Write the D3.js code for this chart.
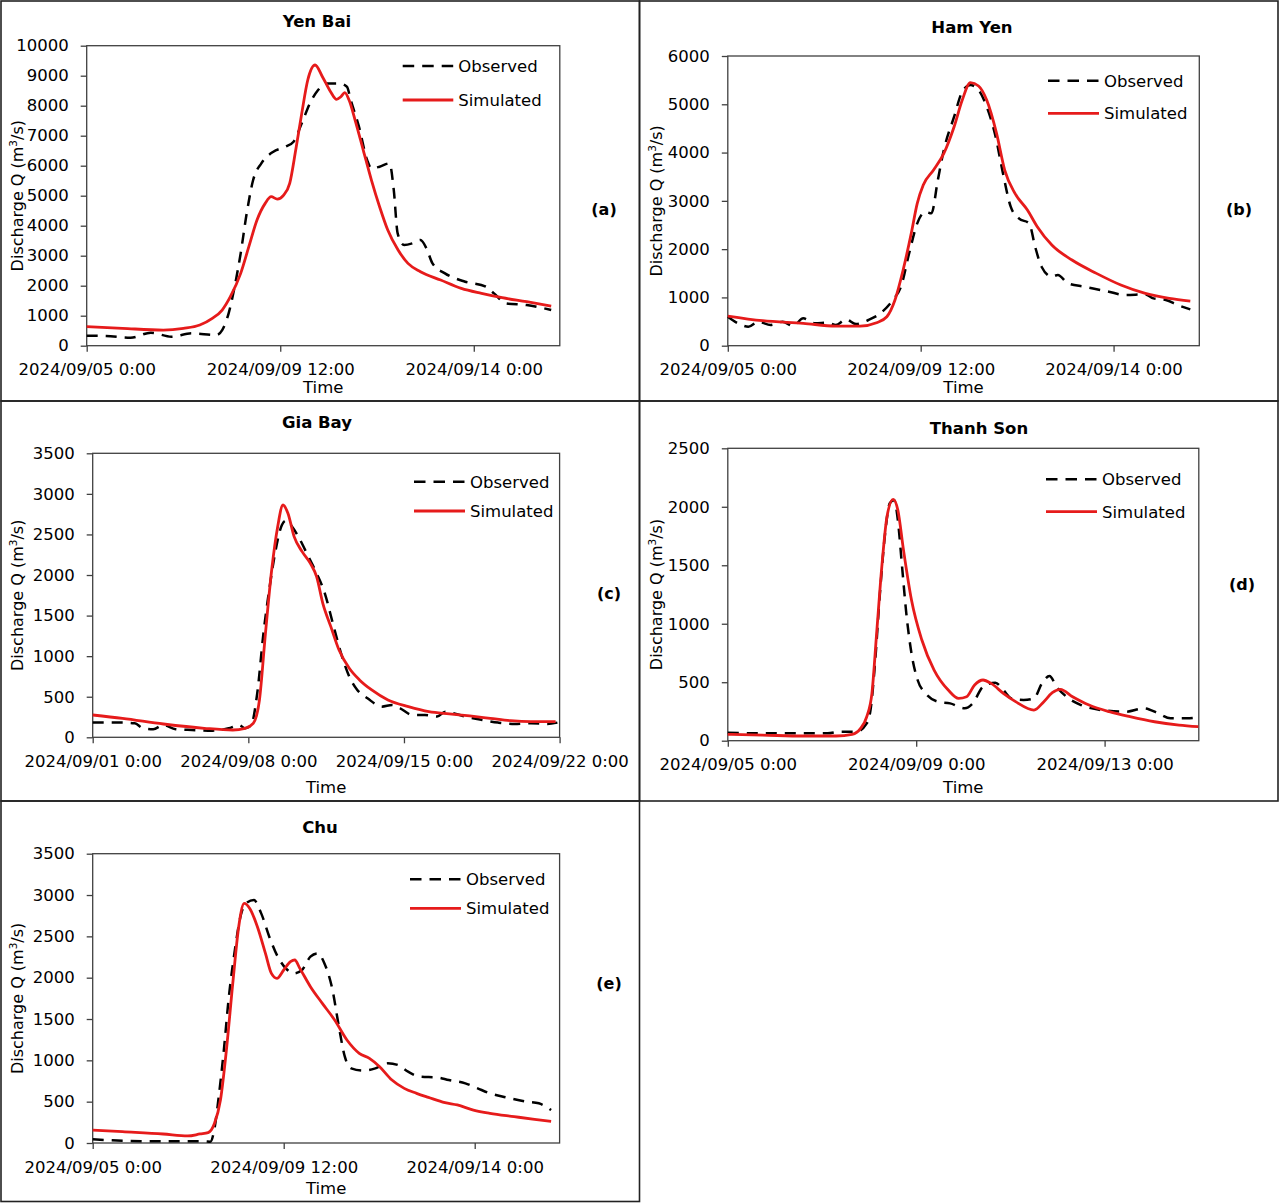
<!DOCTYPE html>
<html>
<head>
<meta charset="utf-8">
<script src="https://cdn.jsdelivr.net/npm/d3@7"></script>
<style>
    body { margin: 0; background: #fff; }
    svg text { font-family: "DejaVu Sans", sans-serif; fill: #000; }
</style>
</head>
<body>
<div id="chart"></div>
<script>
// Data: [days from start of axis, Q (m3/s)]
var yenBaiObs = [[0,333],[0.45,322],[1.02,267],[1.49,433],[1.97,300],[2.44,411],[3.01,355],[3.15,522],[3.3,1078],[3.44,1967],[3.58,3078],[3.72,4411],[3.87,5522],[4.06,6078],[4.34,6467],[4.62,6633],[4.81,6800],[5.0,7411],[5.19,8078],[5.38,8522],[5.57,8744],[5.86,8744],[6.05,8633],[6.14,8189],[6.33,7300],[6.52,6189],[6.62,5911],[6.81,5967],[7.04,6078],[7.14,5189],[7.23,3744],[7.38,3356],[7.57,3411],[7.76,3522],[7.9,3244],[8.04,2744],[8.33,2411],[8.8,2133],[9.28,1967],[9.47,1744],[9.75,1411],[10.23,1356],[10.8,1189]];
var yenBaiSim = [[0,633],[0.83,578],[1.78,522],[2.25,578],[2.63,689],[2.92,911],[3.15,1189],[3.34,1633],[3.58,2411],[3.77,3300],[3.96,4189],[4.15,4744],[4.29,4967],[4.43,4889],[4.58,5022],[4.72,5411],[4.86,6522],[5.0,7744],[5.14,8856],[5.31,9356],[5.48,8967],[5.67,8467],[5.81,8211],[5.91,8300],[6.0,8433],[6.1,8189],[6.24,7522],[6.43,6522],[6.62,5522],[6.81,4633],[7.0,3856],[7.24,3189],[7.47,2744],[7.76,2467],[8.23,2189],[8.71,1911],[9.18,1744],[9.66,1600],[10.23,1467],[10.8,1322]];

var hamYenObs = [[0,600],[0.24,463],[0.48,393],[0.71,497],[1.0,428],[1.28,497],[1.52,407],[1.76,566],[2.04,463],[2.33,476],[2.52,428],[2.76,545],[2.99,449],[3.28,532],[3.56,670],[3.85,946],[4.04,1222],[4.23,1912],[4.42,2534],[4.61,2775],[4.75,2741],[4.9,3431],[5.04,4053],[5.28,4743],[5.47,5261],[5.66,5399],[5.85,5295],[6.04,4950],[6.23,4398],[6.42,3569],[6.6,2879],[6.79,2637],[7.03,2534],[7.17,2050],[7.32,1636],[7.56,1429],[7.7,1464],[7.94,1291],[8.32,1222],[8.89,1118],[9.27,1049],[9.74,1063],[9.93,980],[10.22,946],[10.5,842],[10.79,753]];
var hamYenSim = [[0,614],[0.81,518],[1.76,463],[2.52,407],[3.09,407],[3.47,476],[3.71,600],[3.9,946],[4.09,1567],[4.28,2327],[4.42,2948],[4.56,3328],[4.8,3638],[5.04,3984],[5.28,4536],[5.47,5088],[5.66,5447],[5.85,5378],[6.04,5088],[6.27,4398],[6.46,3638],[6.7,3155],[6.99,2810],[7.22,2465],[7.56,2085],[8.03,1774],[8.6,1498],[9.17,1257],[9.74,1084],[10.3,980],[10.79,925]];

var giaBayObs = [[0,181],[1.34,181],[1.89,173],[2.26,111],[2.72,99],[3.18,152],[3.73,99],[4.46,90],[5.38,82],[6.12,111],[6.58,152],[6.85,111],[7.13,152],[7.4,542],[7.68,1282],[7.96,1857],[8.23,2309],[8.51,2617],[8.69,2670],[8.97,2596],[9.33,2432],[9.7,2227],[10.07,2021],[10.44,1775],[10.8,1405],[11.17,1035],[11.54,748],[11.9,583],[12.36,481],[13.0,378],[13.47,398],[13.83,357],[14.39,275],[14.94,275],[15.49,255],[15.86,316],[16.22,296],[16.77,255],[17.51,214],[18.24,181],[18.98,164],[19.71,173],[20.45,164],[20.9,181]];
var giaBaySim = [[0,275],[1.34,234],[3.18,164],[5.02,111],[6.3,90],[6.85,111],[7.22,173],[7.5,460],[7.77,1282],[8.05,2062],[8.32,2596],[8.56,2863],[8.78,2761],[9.06,2473],[9.42,2288],[9.79,2144],[10.07,1980],[10.35,1651],[10.71,1364],[11.08,1076],[11.54,850],[12.0,707],[12.55,583],[13.28,460],[14.2,378],[15.12,316],[16.04,288],[16.96,263],[17.88,234],[18.79,205],[19.71,193],[20.82,193]];

var thanhSonObs = [[0,68],[0.74,63],[1.6,63],[2.12,63],[2.38,77],[2.73,77],[2.95,148],[3.03,262],[3.12,633],[3.23,1260],[3.34,1773],[3.44,2030],[3.53,2058],[3.61,1887],[3.7,1488],[3.79,1089],[3.9,747],[4.03,519],[4.2,405],[4.46,334],[4.72,319],[5.03,277],[5.2,319],[5.42,462],[5.68,496],[5.85,433],[6.02,362],[6.28,348],[6.5,362],[6.67,490],[6.83,553],[6.98,462],[7.19,376],[7.5,305],[7.93,262],[8.45,248],[8.84,277],[9.14,234],[9.4,191],[9.75,191],[9.99,200]];
var thanhSonSim = [[0,54],[0.74,48],[1.6,40],[2.3,40],[2.64,54],[2.82,105],[2.95,205],[3.06,405],[3.16,918],[3.27,1488],[3.38,1916],[3.51,2064],[3.61,1973],[3.73,1631],[3.9,1203],[4.12,861],[4.38,604],[4.68,433],[4.9,362],[5.07,376],[5.24,476],[5.42,519],[5.59,490],[5.85,405],[6.11,334],[6.5,262],[6.71,334],[6.89,411],[7.06,439],[7.32,376],[7.67,305],[8.1,248],[8.54,205],[9.06,162],[9.58,134],[9.99,120]];

var chuObs = [[0,44],[0.7,28],[1.66,20],[2.63,20],[2.77,16],[2.87,177],[2.96,520],[3.09,1125],[3.2,1730],[3.35,2335],[3.49,2758],[3.63,2907],[3.8,2939],[3.97,2778],[4.16,2496],[4.36,2254],[4.55,2113],[4.74,2052],[4.93,2093],[5.13,2254],[5.3,2294],[5.46,2173],[5.65,1851],[5.8,1407],[5.94,1044],[6.09,903],[6.38,875],[6.66,903],[6.95,964],[7.19,944],[7.43,863],[7.72,802],[8.11,794],[8.39,762],[8.78,722],[9.07,661],[9.36,601],[9.74,552],[10.22,500],[10.51,480],[10.8,399]];
var chuSim = [[0,157],[0.7,137],[1.66,109],[2.24,85],[2.53,109],[2.72,125],[2.87,238],[3.01,520],[3.15,1125],[3.3,1931],[3.44,2617],[3.57,2899],[3.7,2838],[3.88,2617],[4.07,2294],[4.21,2052],[4.34,1992],[4.5,2093],[4.66,2193],[4.76,2214],[4.88,2113],[5.13,1891],[5.41,1689],[5.7,1488],[5.99,1246],[6.28,1085],[6.52,1024],[6.76,923],[7.05,762],[7.34,661],[7.63,601],[7.91,552],[8.3,488],[8.59,460],[8.97,399],[9.36,359],[9.93,319],[10.41,286],[10.8,262]];

// Tick labels of the time axes
var ticks0905 = ["2024/09/05 0:00", "2024/09/09 12:00", "2024/09/14 0:00"];
var ticks0901 = ["2024/09/01 0:00", "2024/09/08 0:00", "2024/09/15 0:00", "2024/09/22 0:00"];
var ticksThanhSon = ["2024/09/05 0:00", "2024/09/09 0:00", "2024/09/13 0:00"];

var seriesNames = ["Observed", "Simulated"];

document.addEventListener("DOMContentLoaded", function () {
    var width = 1280;
    var height = 1203;
    var parseTick = d3.timeParse("%Y/%m/%d %H:%M");
    var formatTick = d3.timeFormat("%Y/%m/%d %-H:%M");
    var red = "#e61b1b";

    // Layout of each panel (box, plot area, title, legend, tag)
    var panels = [
        {tag: "(a)", title: "Yen Bai", obs: yenBaiObs, sim: yenBaiSim, ticks: ticks0905,
         start: "2024/09/05 0:00", end: "2024/09/16 0:00", yMax: 10000, yStep: 1000,
         box: [1, 1, 639.5, 401], plot: [86.7, 45.7, 559.8, 345.7],
         titleX: 317, titleY: 27, leg: [402.7, 453.3, 66, 100], tagX: 604, tagY: 215},
        {tag: "(b)", title: "Ham Yen", obs: hamYenObs, sim: hamYenSim, ticks: ticks0905,
         start: "2024/09/05 0:00", end: "2024/09/16 0:00", yMax: 6000, yStep: 1000,
         box: [639.5, 1, 1278, 401], plot: [727.8, 56, 1199.3, 345.7],
         titleX: 972, titleY: 33, leg: [1048, 1099, 80.7, 113.3], tagX: 1239, tagY: 215},
        {tag: "(c)", title: "Gia Bay", obs: giaBayObs, sim: giaBaySim, ticks: ticks0901,
         start: "2024/09/01 0:00", end: "2024/09/22 0:00", yMax: 3500, yStep: 500,
         box: [1, 401, 639.5, 801], plot: [92.7, 453.3, 559.6, 737.3],
         titleX: 317, titleY: 428, leg: [414, 465, 481.7, 511], tagX: 609, tagY: 599},
        {tag: "(d)", title: "Thanh Son", obs: thanhSonObs, sim: thanhSonSim, ticks: ticksThanhSon,
         start: "2024/09/05 0:00", end: "2024/09/15 0:00", yMax: 2500, yStep: 500,
         box: [639.5, 401, 1278, 801], plot: [727.8, 448.3, 1198.8, 740.7],
         titleX: 979, titleY: 434, leg: [1046, 1097, 479.3, 511.7], tagX: 1242, tagY: 590},
        {tag: "(e)", title: "Chu", obs: chuObs, sim: chuSim, ticks: ticks0905,
         start: "2024/09/05 0:00", end: "2024/09/16 0:00", yMax: 3500, yStep: 500,
         box: [1, 801, 639.5, 1201.5], plot: [92.7, 853.7, 559.6, 1143],
         titleX: 320, titleY: 833, leg: [410, 461, 879.3, 908.3], tagX: 609, tagY: 989}
    ];

    var svg = d3.select("#chart")
        .append("svg")
        .attr("width", width)
        .attr("height", height);

    svg.append("rect")
        .attr("width", width)
        .attr("height", height)
        .attr("fill", "#fff");

    panels.forEach(function (p) {
        var g = svg.append("g");
        var start = parseTick(p.start);
        var toPoint = d => ({t: new Date(start.getTime() + d[0] * 864e5), q: d[1]});

        // Panel border
        g.append("rect")
            .attr("x", p.box[0]).attr("y", p.box[1])
            .attr("width", p.box[2] - p.box[0]).attr("height", p.box[3] - p.box[1])
            .attr("fill", "none").attr("stroke", "#222").attr("stroke-width", 1.6);

        var x = d3.scaleTime()
            .domain([start, parseTick(p.end)])
            .range([p.plot[0], p.plot[2]]);
        var y = d3.scaleLinear()
            .domain([0, p.yMax])
            .range([p.plot[3], p.plot[1]]);

        // Axes
        var xAxis = g.append("g")
            .attr("transform", "translate(0," + p.plot[3] + ")")
            .call(d3.axisBottom(x)
                .tickValues(p.ticks.map(parseTick))
                .tickFormat(formatTick)
                .tickSizeOuter(0).tickSize(6).tickPadding(12));
        var yAxis = g.append("g")
            .attr("transform", "translate(" + p.plot[0] + ",0)")
            .call(d3.axisLeft(y)
                .tickValues(d3.range(0, p.yMax + 1, p.yStep))
                .tickFormat(d3.format("d"))
                .tickSizeOuter(0).tickSize(6).tickPadding(12));
        [xAxis, yAxis].forEach(function (a) {
            a.select(".domain").remove();
            a.selectAll(".tick line").attr("stroke", "#404040").attr("stroke-width", 1.3);
            a.selectAll(".tick text").style("font-size", "16.5px").attr("fill", "#000");
        });

        // Plot frame
        g.append("rect")
            .attr("x", p.plot[0]).attr("y", p.plot[1])
            .attr("width", p.plot[2] - p.plot[0]).attr("height", p.plot[3] - p.plot[1])
            .attr("fill", "none").attr("stroke", "#404040").attr("stroke-width", 1.3);

        var line = d3.line()
            .x(d => x(d.t))
            .y(d => y(d.q))
            .curve(d3.curveMonotoneX);

        g.append("path")
            .datum(p.obs.map(toPoint))
            .attr("d", line)
            .attr("fill", "none")
            .attr("stroke", "#000")
            .attr("stroke-width", 2.5)
            .attr("stroke-dasharray", "11,8");

        g.append("path")
            .datum(p.sim.map(toPoint))
            .attr("d", line)
            .attr("fill", "none")
            .attr("stroke", red)
            .attr("stroke-width", 2.8);

        // Title
        g.append("text")
            .attr("x", p.titleX).attr("y", p.titleY)
            .attr("text-anchor", "middle")
            .style("font-size", "16.5px").style("font-weight", "bold")
            .text(p.title);

        // Panel tag
        g.append("text")
            .attr("x", p.tagX).attr("y", p.tagY)
            .attr("text-anchor", "middle")
            .style("font-size", "16px").style("font-weight", "bold")
            .text(p.tag);

        // Axis titles
        g.append("text")
            .attr("x", (p.plot[0] + p.plot[2]) / 2)
            .attr("y", p.box[3] - 8)
            .attr("text-anchor", "middle")
            .style("font-size", "16.5px")
            .text("Time");

        var yl = g.append("text")
            .attr("transform", "translate(" + (p.box[0] + 22) + "," + ((p.plot[1] + p.plot[3]) / 2) + ") rotate(-90)")
            .attr("text-anchor", "middle")
            .style("font-size", "16px");
        yl.append("tspan").text("Discharge Q (m");
        yl.append("tspan").attr("dy", -6).style("font-size", "10.5px").text("3");
        yl.append("tspan").attr("dy", 6).text("/s)");

        // Legend
        var legend = g.selectAll(".legend")
            .data(seriesNames)
            .enter()
            .append("g")
            .attr("transform", (d, i) => "translate(0," + (i === 0 ? p.leg[2] : p.leg[3]) + ")");
        legend.append("line")
            .attr("x1", p.leg[0]).attr("x2", p.leg[1])
            .attr("stroke", (d, i) => i === 0 ? "#000" : red)
            .attr("stroke-width", (d, i) => i === 0 ? 2.5 : 2.8)
            .attr("stroke-dasharray", (d, i) => i === 0 ? "11.5,8" : null);
        legend.append("text")
            .attr("x", p.leg[1] + 5)
            .attr("y", 6)
            .style("font-size", "16.5px")
            .text(d => d);
    });
});
</script>
</body>
</html>
